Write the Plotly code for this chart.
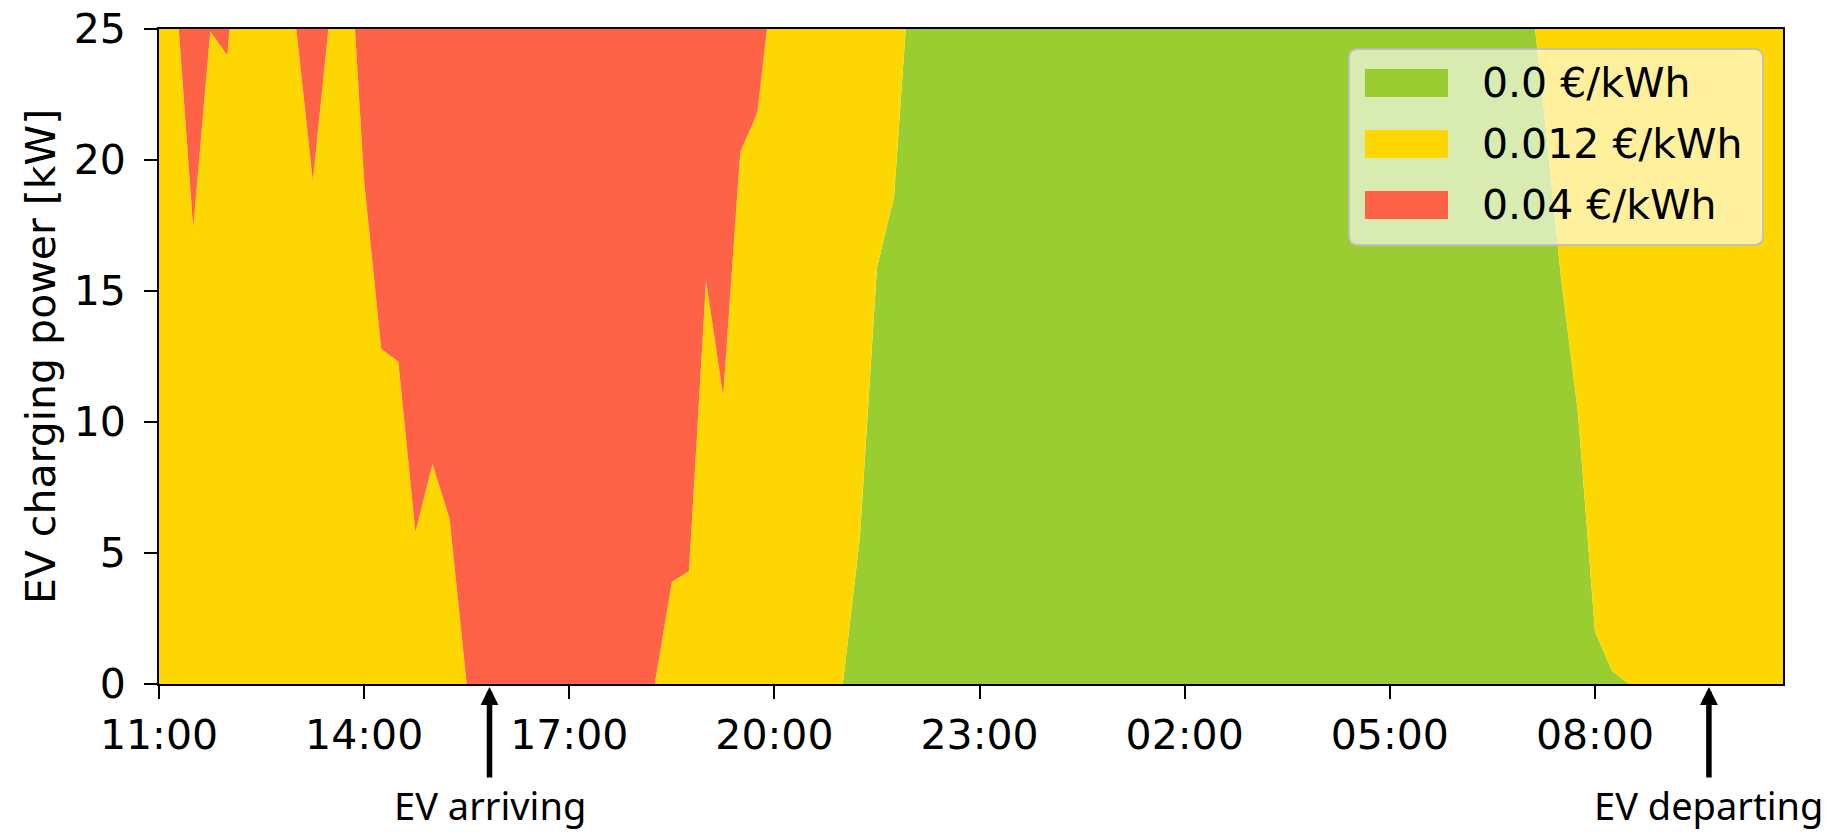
import plotly.graph_objects as go
import pandas as pd

# ---------------- data ----------------
times = pd.date_range("2020-06-01 11:00", periods=96, freq="15min")
tick_start = "2020-06-01 11:00"

price_labels = ["0.0 €/kWh", "0.012 €/kWh", "0.04 €/kWh"]
price_colors = ["#9ACD32", "#FFD700", "#FF6347"]

# charging power available per price tier [kW], 15-min resolution from 11:00
power_free = [
    0, 0, 0, 0, 0, 0, 0, 0, 0, 0, 0, 0,                    # 11:00-13:45
    0, 0, 0, 0, 0, 0, 0, 0, 0, 0, 0, 0,                    # 14:00-16:45
    0, 0, 0, 0, 0, 0, 0, 0, 0, 0, 0, 0,                    # 17:00-19:45
    0, 0, 0, 0, 0, 5.6, 15.9, 18.6, 28.0, 30, 30, 30,      # 20:00-22:45
    30, 30, 30, 30, 30, 30, 30, 30, 30, 30, 30, 30,        # 23:00-01:45
    30, 30, 30, 30, 30, 30, 30, 30, 30, 30, 30, 30,        # 02:00-04:45
    30, 30, 30, 30, 30, 30, 30, 30, 28.0, 22.0, 15.6, 10.4,  # 05:00-07:45
    2.0, 0.5, 0, 0, 0, 0, 0, 0, 0, 0, 0, 0,                # 08:00-10:45
]
power_low = [
    27.0, 26.4, 17.4, 24.9, 24.0, 32.0, 30.0, 29.0, 25.2, 19.2, 25.6, 30.0,
    19.2, 12.8, 12.3, 5.8, 8.4, 6.3, 0, 0, 0, 0, 0, 0,
    0, 0, 0, 0, 0, 0, 3.9, 4.3, 15.4, 11.0, 20.3, 21.8,
    27.5, 30, 30, 30, 30, 24.4, 14.1, 11.4, 2.0, 0, 0, 0,
    0, 0, 0, 0, 0, 0, 0, 0, 0, 0, 0, 0,
    0, 0, 0, 0, 0, 0, 0, 0, 0, 0, 0, 0,
    0, 0, 0, 0, 0, 0, 0, 0, 2.0, 8.0, 14.4, 19.6,
    28.0, 29.5, 30, 30, 30, 30, 30, 30, 30, 30, 30, 30,
]
power_high = [
    3.0, 3.6, 12.6, 5.1, 6.0, 0, 0, 1.0, 4.8, 10.8, 4.4, 0,
    10.8, 17.2, 17.7, 24.2, 21.6, 23.7, 30, 30, 30, 30, 30, 30,
    30, 30, 30, 30, 30, 30, 26.1, 25.7, 14.6, 19.0, 9.7, 8.2,
    2.5, 0, 0, 0, 0, 0, 0, 0, 0, 0, 0, 0,
    0, 0, 0, 0, 0, 0, 0, 0, 0, 0, 0, 0,
    0, 0, 0, 0, 0, 0, 0, 0, 0, 0, 0, 0,
    0, 0, 0, 0, 0, 0, 0, 0, 0, 0, 0, 0,
    0, 0, 0, 0, 0, 0, 0, 0, 0, 0, 0, 0,
]
tier_values = [power_free, power_low, power_high]

y_ticks = [0, 5, 10, 15, 20, 25]
event_labels = ["EV arriving", "EV departing"]
event_times = ["2020-06-01 15:50", "2020-06-02 09:40"]

# ---------------- layout geometry (pixels) ----------------
W, H = 1826, 832
ML, MR, MT, MB = 159, 43, 29, 148
PW, PH = W - ML - MR, H - MT - MB


def fx(p):
    return (p - ML) / PW


def fy(p):
    return (H - MB - p) / PH


FONT = "DejaVu Sans"
FS = 41

fig = go.Figure()
for vals, name, col in zip(tier_values, price_labels, price_colors):
    fig.add_trace(go.Scatter(
        x=times, y=vals, name=name, mode="lines",
        stackgroup="tiers", line=dict(width=0, color=col),
        fillcolor=col, showlegend=False,
    ))

shapes = []
annotations = []

# legend box (rounded, semi-transparent)
lx0, lx1, ly0, ly1, rad = 1349, 1763, 49, 245, 9
rx, ry = rad / PW, rad / PH
X0, X1, YT, YB = fx(lx0), fx(lx1), fy(ly0), fy(ly1)
path = (f"M{X0+rx},{YT} L{X1-rx},{YT} Q{X1},{YT} {X1},{YT-ry} "
        f"L{X1},{YB+ry} Q{X1},{YB} {X1-rx},{YB} L{X0+rx},{YB} "
        f"Q{X0},{YB} {X0},{YB+ry} L{X0},{YT-ry} Q{X0},{YT} {X0+rx},{YT} Z")
shapes.append(dict(type="path", xref="paper", yref="paper", path=path,
                   fillcolor="rgba(255,255,255,0.62)",
                   line=dict(color="rgba(190,190,190,0.9)", width=2)))

row_centers = [83, 144, 205]
for name, col, yc in zip(price_labels, price_colors, row_centers):
    shapes.append(dict(type="rect", xref="paper", yref="paper",
                       x0=fx(1365), x1=fx(1448), y0=fy(yc - 14), y1=fy(yc + 14),
                       fillcolor=col, line=dict(width=0)))
    annotations.append(dict(xref="paper", yref="paper", x=fx(1480), y=fy(yc),
                            xanchor="left", yanchor="middle", text=name,
                            showarrow=False,
                            font=dict(family=FONT, size=FS, color="black")))

# event arrows
for lab, t in zip(event_labels, event_times):
    annotations.append(dict(
        xref="x", yref="y", x=t, y=0, text=lab, showarrow=True,
        ax=0, ay=121, arrowhead=2, arrowsize=0.65, arrowwidth=5.5,
        arrowcolor="black", standoff=3,
        font=dict(family="Noto Sans", size=38, color="black"),
    ))

axis_common = dict(
    showline=True, linecolor="black", linewidth=2, mirror=True,
    ticks="outside", ticklen=13, tickwidth=2, tickcolor="black",
    showgrid=False, zeroline=False, automargin=False,
    tickfont=dict(family=FONT, size=FS, color="black"),
)

fig.update_layout(
    width=W, height=H,
    margin=dict(l=ML, r=MR, t=MT, b=MB, pad=0, autoexpand=False),
    paper_bgcolor="white", plot_bgcolor="white",
    showlegend=False,
    shapes=shapes, annotations=annotations,
    xaxis=dict(type="date", range=[times[0], times[-1]],
               tickformat="%H:%M", tick0=tick_start, dtick=3 * 3600 * 1000,
               ticklabelstandoff=1, **axis_common),
    yaxis=dict(range=[0, 25], tickvals=y_ticks, ticklabelstandoff=10,
               title=dict(text="EV charging power [kW]",
                          font=dict(family=FONT, size=FS, color="black"),
                          standoff=5),
               **axis_common),
)

fig.write_html("out.html")
